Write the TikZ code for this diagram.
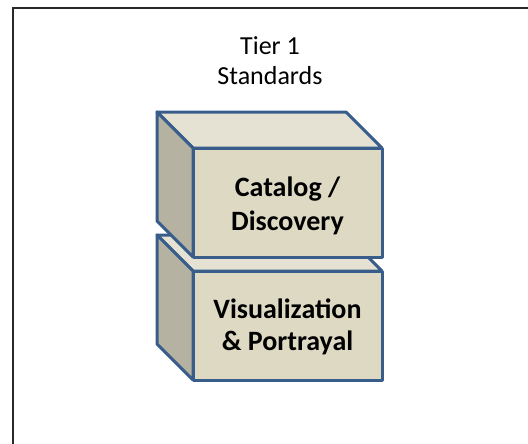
\documentclass[tikz,border=0pt]{standalone}
\usepackage{fontspec}
\setmainfont{Carlito}
\usepackage{amsmath}

\begin{document}
\begin{tikzpicture}[x=0.75pt,y=0.75pt,yscale=-1,xscale=1]
%set diagram left start at 0, and has height of 443
\clip (0,0) rectangle (528,443);

%Shape: Rectangle [id:frame] 
\draw  [color={rgb, 255:red, 40; green, 40; blue, 40 }  ,line width=1.1]  (13,8) rectangle (545,460) ;

%Shape: Cube [id:visual-top] 
\draw  [color={rgb, 255:red, 56; green, 93; blue, 138 }  ,fill={rgb, 255:red, 229; green, 226; blue, 212 }  ,line width=2.25, line join=round]  (157,235) -- (346,235) -- (382,271) -- (193,271) -- cycle ;
%Shape: Cube [id:visual-side] 
\draw  [color={rgb, 255:red, 56; green, 93; blue, 138 }  ,fill={rgb, 255:red, 181; green, 178; blue, 162 }  ,line width=2.25, line join=round]  (157,235) -- (193,271) -- (193,380) -- (157,344) -- cycle ;
%Shape: Cube [id:visual-front] 
\draw  [color={rgb, 255:red, 56; green, 93; blue, 138 }  ,fill={rgb, 255:red, 221; green, 217; blue, 195 }  ,line width=2.25, line join=round]  (193,271) -- (382,271) -- (382,380) -- (193,380) -- cycle ;

%Shape: Cube [id:catalog-top] 
\draw  [color={rgb, 255:red, 56; green, 93; blue, 138 }  ,fill={rgb, 255:red, 229; green, 226; blue, 212 }  ,line width=2.25, line join=round]  (157,112) -- (346,112) -- (382,148) -- (193,148) -- cycle ;
%Shape: Cube [id:catalog-side] 
\draw  [color={rgb, 255:red, 56; green, 93; blue, 138 }  ,fill={rgb, 255:red, 181; green, 178; blue, 162 }  ,line width=2.25, line join=round]  (157,112) -- (193,148) -- (193,257) -- (157,221) -- cycle ;
%Shape: Cube [id:catalog-front] 
\draw  [color={rgb, 255:red, 56; green, 93; blue, 138 }  ,fill={rgb, 255:red, 221; green, 217; blue, 195 }  ,line width=2.25, line join=round]  (193,148) -- (382,148) -- (382,257) -- (193,257) -- cycle ;


% Text Node
\draw (270,61) node (tier) [inner sep=0.75pt, font=\fontsize{19.5}{22.5}\selectfont]  [align=center] {Tier 1\\Standards};
% Text Node
\draw (287.5,206) node (catalog) [inner sep=0.75pt, font=\fontsize{21}{25}\selectfont\bfseries]  [align=center] {Catalog /\\Discovery};
% Text Node
\draw (287.5,327) node (visual) [inner sep=0.75pt, font=\fontsize{21}{24}\selectfont\bfseries]  [align=center] {Visualization\\\& Portrayal};

\end{tikzpicture}
\end{document}
